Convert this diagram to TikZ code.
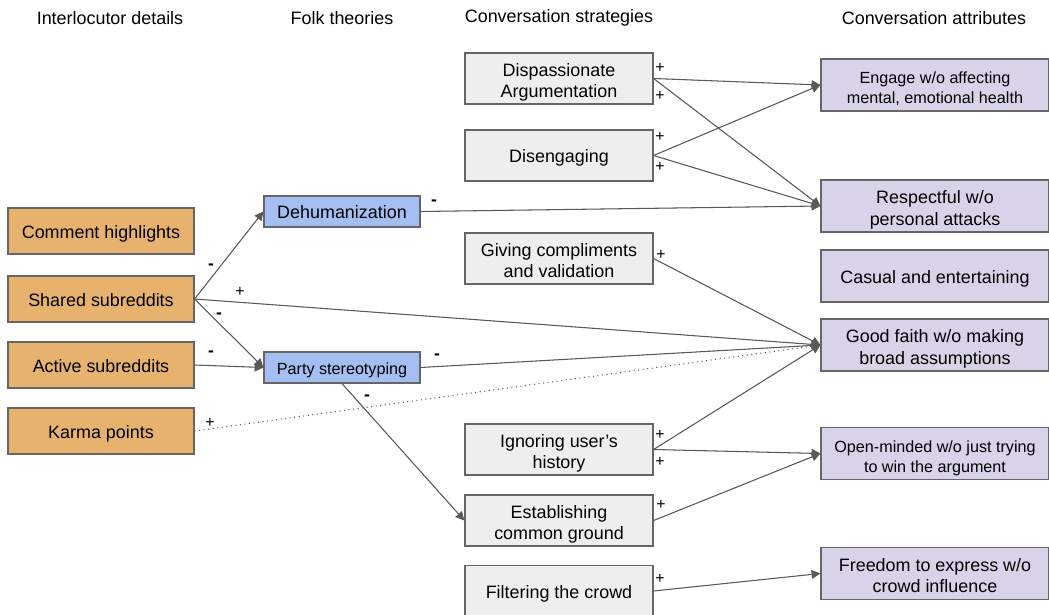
\documentclass[tikz,border=0pt]{standalone}
\usepackage{fontspec}
\setmainfont{Liberation Sans}
\usetikzlibrary{arrows.meta}

\definecolor{detfill}{HTML}{E6B26E}
\definecolor{folkfill}{HTML}{A4BEF2}
\definecolor{stratfill}{HTML}{EEEEEE}
\definecolor{attrfill}{HTML}{D9D3E9}
\definecolor{boxline}{HTML}{666666}
\definecolor{edgeline}{HTML}{595959}

\begin{document}
\begin{tikzpicture}[x=0.02cm,y=-0.02cm,>={Triangle[length=5pt,width=5pt]}]
\tikzstyle{box}=[rectangle,draw=boxline,line width=0.7pt,inner sep=0pt,align=center,font=\fontsize{10.2}{12}\selectfont,text depth=2.3pt,execute at begin node={\rule{0pt}{10.6pt}}]
\tikzstyle{det}=[box,fill=detfill,minimum width=3.72cm,minimum height=0.92cm]
\tikzstyle{folk}=[box,fill=folkfill,minimum width=3.12cm,minimum height=0.62cm]
\tikzstyle{strat}=[box,fill=stratfill,minimum width=3.76cm,minimum height=1.02cm]
\tikzstyle{attr}=[box,fill=attrfill,minimum width=4.56cm,minimum height=1.04cm]
\tikzstyle{small}=[font=\fontsize{9.2}{11.4}\selectfont,text depth=2.1pt,execute at begin node={\rule{0pt}{9.6pt}}]
\tikzstyle{dbl}=[text height=24pt]
\tikzstyle{dbls}=[small,text height=23.6pt]
\tikzstyle{head}=[font=\fontsize{10.2}{12}\selectfont]
\tikzstyle{pl}=[inner sep=0pt,font=\fontsize{9}{9}\selectfont]
\tikzstyle{mi}=[inner sep=0pt,font=\fontsize{10}{10}\selectfont\bfseries]
\tikzstyle{link}=[->,draw=edgeline,fill=edgeline,line width=0.6pt]
\useasboundingbox (0,0) rectangle (1049,615);

% column headings
\node[head](h1) at (110,18) {Interlocutor details};
\node[head](h2) at (342,18) {Folk theories};
\node[head](h3) at (559,18) {Conversation strategies};
\node[head](h4) at (934,18) {Conversation attributes};

% interlocutor details
\node[det](ch) at (101,231) {Comment highlights};
\node[det](sh) at (101,299) {Shared subreddits};
\node[det](ac) at (101,365) {Active subreddits};
\node[det](ka) at (101,431) {Karma points};

% folk theories
\node[folk](de) at (342,211.5) {Dehumanization};
\node[folk,small](ps) at (342,367.5) {Party stereotyping};

% conversation strategies
\node[strat,dbl](da) at (559,78.5) {Dispassionate\\Argumentation};
\node[strat](di) at (559,155.5) {Disengaging};
\node[strat,dbl](gc) at (559,258.5) {Giving compliments\\and validation};
\node[strat,dbl](ig) at (559,449.5) {Ignoring user's\\history};
\node[strat,dbl](ec) at (559,520.5) {Establishing\\common ground};
\node[strat](fc) at (559,591) {Filtering the crowd};

% conversation attributes
\node[attr,dbls](en) at (935,85) {Engage w/o affecting\\mental, emotional health};
\node[attr,dbl](re) at (935,206) {Respectful w/o\\personal attacks};
\node[attr](ca) at (935,276) {Casual and entertaining};
\node[attr,dbl](gf) at (935,345) {Good faith w/o making\\broad assumptions};
\node[attr,dbls](om) at (935,453.5) {Open-minded w/o just trying\\to win the argument};
\node[attr,dbl](fr) at (935,573.5) {Freedom to express w/o\\crowd influence};

% links
\draw[link] (sh.east) -> (de.west);
\draw[link] (sh.east) -> (ps.west);
\draw[link] (sh.east) -> (gf.west);
\draw[link] (ac.east) -> (ps.west);
\draw[edgeline,line width=0.6pt,dotted] (ka.east) -- (gf.west);
\draw[link] (de.east) -> (re.west);
\draw[link] (ps.east) -> (gf.west);
\draw[link] (ps.south) -> (ec.west);
\draw[link] (da.east) -> (en.west);
\draw[link] (da.east) -> (re.west);
\draw[link] (di.east) -> (en.west);
\draw[link] (di.east) -> (re.west);
\draw[link] (gc.east) -> (gf.west);
\draw[link] (ig.east) -> (gf.west);
\draw[link] (ig.east) -> (om.west);
\draw[link] (ec.east) -> (om.west);
\draw[link] (fc.east) -> (fr.west);

% signs
\node[mi](m1) at (211,267) {-};
\node[mi](m2) at (219,316) {-};
\node[mi](m3) at (211,354) {-};
\node[mi](m4) at (434,203) {-};
\node[mi](m5) at (437,357) {-};
\node[mi](m6) at (367,398) {-};
\node[pl](p1) at (240,292) {+};
\node[pl](p2) at (210,423) {+};
\node[pl](p3) at (660,68) {+};
\node[pl](p4) at (660,96) {+};
\node[pl](p5) at (660,137) {+};
\node[pl](p6) at (660,167) {+};
\node[pl](p7) at (661,255) {+};
\node[pl](p8) at (660,435) {+};
\node[pl](p9) at (660,462) {+};
\node[pl](p10) at (661,505) {+};
\node[pl](p11) at (660,579) {+};
\end{tikzpicture}
\end{document}
